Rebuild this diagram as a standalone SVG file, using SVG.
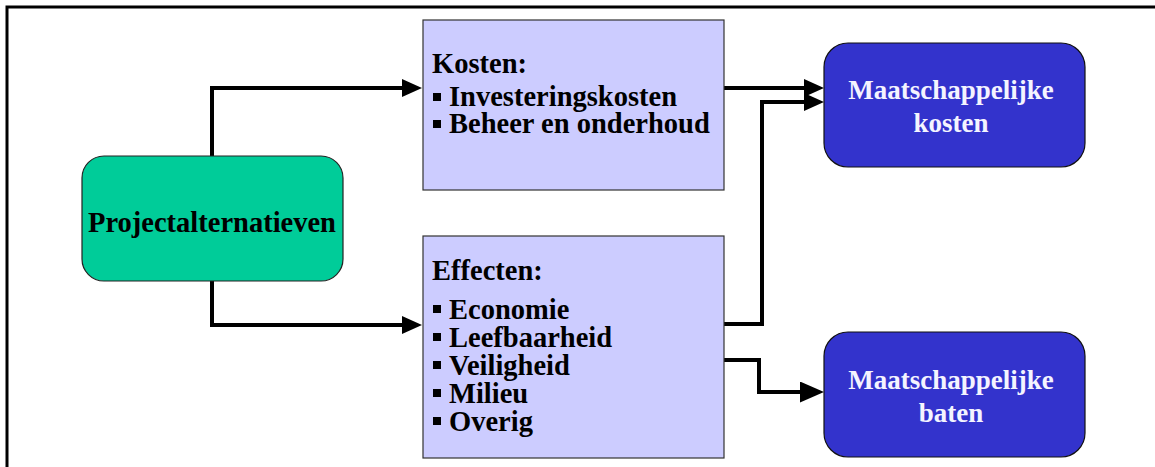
<svg xmlns="http://www.w3.org/2000/svg" width="1155" height="467" viewBox="0 0 1155 467">
<style>
.t{font-family:"Liberation Serif","Times New Roman",serif;font-weight:bold;fill:#000;font-size:28.5px}
.w{font-family:"Liberation Serif","Times New Roman",serif;font-weight:bold;fill:#F4F4FF;font-size:27px;text-anchor:middle}
.box{fill:#CCCCFF;stroke:#333;stroke-width:1.2}
.blue{fill:#3333CC;stroke:#111;stroke-width:1.2}
.green{fill:#00CC99;stroke:#222;stroke-width:1.2}
.c{fill:none;stroke:#000;stroke-width:4;stroke-linejoin:miter}
.b{fill:#000}
</style>
<defs>
<marker id="ah" markerUnits="userSpaceOnUse" markerWidth="20" markerHeight="18" viewBox="0 0 20 18" refX="2" refY="9" orient="auto"><path d="M0,0 L20,9 L0,18 z" fill="#000"/></marker>
<marker id="ah2" markerUnits="userSpaceOnUse" markerWidth="24" markerHeight="21" viewBox="0 0 24 21" refX="2" refY="10.5" orient="auto"><path d="M0,0 L24,10.5 L0,21 z" fill="#000"/></marker>
</defs>
<g id="frame"><path d="M7,467 V7 H1155" fill="none" stroke="#000" stroke-width="3"/></g>
<g id="connectors">
<path class="c" d="M212,156 V88 H404" marker-end="url(#ah)"/>
<path class="c" d="M212,281 V325 H404" marker-end="url(#ah)"/>
<path class="c" d="M724,88 H806" marker-end="url(#ah)"/>
<path class="c" d="M724,324 H762 V102 H806" marker-end="url(#ah)"/>
<path class="c" d="M724,360 H759 V392 H802" marker-end="url(#ah2)"/>
</g>
<g id="projectalternatieven">
<rect class="green" x="82" y="156" width="261" height="125" rx="22"/>
<text class="t" x="212" y="232" text-anchor="middle" font-size="29">Projectalternatieven</text>
</g>
<g id="kosten">
<rect class="box" x="423" y="20" width="301" height="170"/>
<text class="t" x="432" y="73">Kosten:</text>
<rect class="b" x="433" y="93" width="8" height="8"/>
<text class="t" x="449" y="106">Investeringskosten</text>
<rect class="b" x="433" y="120" width="8" height="8"/>
<text class="t" x="449" y="133">Beheer en onderhoud</text>
</g>
<g id="effecten">
<rect class="box" x="423" y="236" width="301" height="222"/>
<text class="t" x="432" y="280">Effecten:</text>
<rect class="b" x="433" y="305" width="8" height="8"/>
<text class="t" x="449" y="319">Economie</text>
<rect class="b" x="433" y="333" width="8" height="8"/>
<text class="t" x="449" y="347">Leefbaarheid</text>
<rect class="b" x="433" y="361" width="8" height="8"/>
<text class="t" x="449" y="375">Veiligheid</text>
<rect class="b" x="433" y="389" width="8" height="8"/>
<text class="t" x="449" y="403">Milieu</text>
<rect class="b" x="433" y="417" width="8" height="8"/>
<text class="t" x="449" y="431">Overig</text>
</g>
<g id="maatschappelijke-kosten">
<rect class="blue" x="824" y="43" width="261" height="124" rx="24"/>
<text class="w" x="951" y="99">Maatschappelijke</text>
<text class="w" x="951" y="132">kosten</text>
</g>
<g id="maatschappelijke-baten">
<rect class="blue" x="824" y="332" width="261" height="125" rx="24"/>
<text class="w" x="951" y="389">Maatschappelijke</text>
<text class="w" x="951" y="422">baten</text>
</g>
</svg>
